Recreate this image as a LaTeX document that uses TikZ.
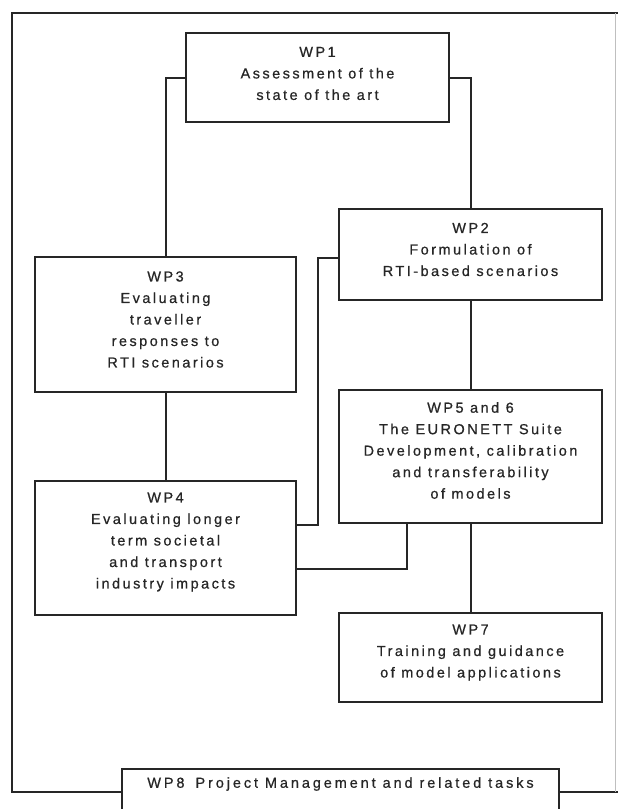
\documentclass[tikz,border=0pt]{standalone}
\usepackage{fontspec}
\setmainfont{Liberation Sans}[LetterSpace=17,FakeBold=0.6]
\begin{document}
\begin{tikzpicture}[x=1pt,y=-1pt,
  box/.style={draw=black!85, line width=1.1pt, fill=white, outer sep=0pt, inner sep=0pt},
  txt/.style={align=center, font=\fontsize{14.5}{21.5}\selectfont, text=black!85, inner sep=0pt},
  conn/.style={draw=black!85, line width=2pt, line cap=rect},
  frame/.style={draw=black!85, line width=2pt, line cap=rect}]
\clip (0,0) rectangle (618,809);
\fill[white] (0,0) rectangle (618,809);
% boxes
\node[box, minimum width=263, minimum height=89] (wp1) at (317.5,77.5) {};
\node[box, minimum width=263, minimum height=91] (wp2) at (470.5,254.5) {};
\node[box, minimum width=261, minimum height=135] (wp3) at (165.5,324.5) {};
\node[box, minimum width=261, minimum height=134] (wp4) at (165.5,548) {};
\node[box, minimum width=263, minimum height=133] (wp5) at (470.5,456.5) {};
\node[box, minimum width=263, minimum height=89] (wp7) at (470.5,657.5) {};
\node[box, minimum width=437, minimum height=61] (wp8) at (340.5,799.5) {};
% texts
\node[txt] (t1) at ([yshift=4]wp1.center) {WP1\\Assessment of the\\state of the art};
\node[txt] (t2) at ([yshift=5]wp2.center) {WP2\\Formulation of\\RTI-based scenarios};
\node[txt] (t3) at ([yshift=5]wp3.center) {WP3\\Evaluating\\traveller\\responses to\\RTI scenarios};
\node[txt] (t4) at ([yshift=6]wp4.center) {WP4\\Evaluating longer\\term societal\\and transport\\industry impacts};
\node[txt] (t5) at ([yshift=6]wp5.center) {WP5 and 6\\The EURONETT Suite\\Development, calibration\\and transferability\\of models};
\node[txt] (t7) at ([yshift=5]wp7.center) {WP7\\Training and guidance\\of model applications};
\node[txt] (t8) at ([yshift=-15]wp8.north) {\addfontfeature{LetterSpace=20}WP8\hspace{11pt}Project Management and related tasks};
% connectors
\draw[conn] (wp1.west) -| (wp3.north);
\draw[conn] (wp1.east) -| (wp2.north);
\draw[conn] (wp2.south) -- (wp5.north);
\draw[conn] (wp3.south) -- (wp4.north);
\draw[conn] (wp5.south) -- (wp7.north);
\coordinate (a1) at (318,258);
\coordinate (a2) at (318,525);
\draw[conn] (wp2.west |- a1) -- (a1) -- (a2) -- (wp4.east |- a2);
\coordinate (b1) at (407,569);
\draw[conn] (wp5.south -| b1) -- (b1) -- (wp4.east |- b1);
% outer frame
\coordinate (f1) at (12,792);
\coordinate (f2) at (12,13);
\coordinate (f3) at (625,13);
\coordinate (f4) at (625,792);
\draw[frame] (wp8.west |- f1) -- (f1) -- (f2) -- (f3);
\draw[frame] (wp8.east |- f4) -- (f4);
\draw[black!25, line width=0.6pt] (615,13) -- (615,792);
\end{tikzpicture}
\end{document}
